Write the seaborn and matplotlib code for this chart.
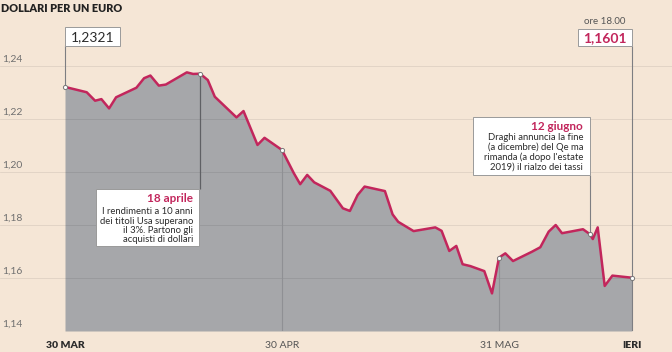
import matplotlib
matplotlib.use("Agg")
import matplotlib.pyplot as plt
import matplotlib.transforms as mtransforms
from matplotlib.patches import Rectangle
import seaborn as sns
import numpy as np

# ---------------------------------------------------------------------------
# DATI: cambio dollari per un euro (giorni dal 30 marzo)
# ---------------------------------------------------------------------------
giorni = [0, 3.1, 4.3, 5.2, 6.3, 7.3, 10.2, 11.3, 12.2, 13.4, 14.4, 17.4, 18.3,
          19.3, 20.4, 21.4, 24.5, 25.5, 27.5, 28.5, 31.0, 32.7, 33.6, 34.6,
          35.6, 37.9, 39.7, 40.7, 41.8, 42.8, 45.7, 46.8, 47.6, 49.8, 52.9,
          53.8, 54.9, 55.9, 56.8, 57.9, 59.9, 61.0, 62.0, 62.9, 64.0, 66.7,
          67.9, 69.1, 70.1, 71.0, 74.0, 75.0, 75.4, 76.1, 77.1, 78.2, 81.0]
cambio = [1.2321, 1.2301, 1.2269, 1.2275, 1.2240, 1.2282, 1.2318, 1.2354,
          1.2364, 1.2326, 1.2330, 1.2376, 1.2370, 1.2371, 1.2347, 1.2284,
          1.2206, 1.2230, 1.2102, 1.2129, 1.2083, 1.1995, 1.1954, 1.1989,
          1.1961, 1.1929, 1.1863, 1.1853, 1.1913, 1.1945, 1.1928, 1.1840,
          1.1812, 1.1777, 1.1791, 1.1778, 1.1702, 1.1721, 1.1652, 1.1645,
          1.1626, 1.1542, 1.1677, 1.1693, 1.1664, 1.1699, 1.1716, 1.1775,
          1.1800, 1.1769, 1.1784, 1.1765, 1.1747, 1.1791, 1.1570, 1.1609,
          1.1601]

tick_giorni = [0, 31, 62, 81]
tick_etichette = ["30 MAR", "30 APR", "31 MAG", "IERI"]
tick_grassetto = [True, False, False, True]

livelli_y = [1.14, 1.16, 1.18, 1.20, 1.22, 1.24]
etichette_y = ["1,14", "1,16", "1,18", "1,20", "1,22", "1,24"]

giorno_18_aprile = 19.3
giorno_12_giugno = 75.0
valore_inizio = "1,2321"
valore_ieri = "1,1601"

# ---------------------------------------------------------------------------
# STILE
# ---------------------------------------------------------------------------
BEIGE = "#f5e6d6"
GRIGIO = "#a6a7aa"
ROSSO = "#c2265c"
SCURO = "#2b2b2b"
LINEA_EVENTO = "#7d7e82"

sns.set_style("white")
plt.rcParams["font.family"] = ["Lato", "DejaVu Sans"]

fig = plt.figure(figsize=(6.72, 3.52), dpi=100, facecolor=BEIGE)
ax = fig.add_axes([0, 21 / 352, 1, 331 / 352])
ax.set_facecolor("none")
ax.set_xlim(-65 / 7, (672 - 65) / 7)
ax.set_ylim(1.14, 1.14 + 331 / 2650)
ax.axis("off")

# trasformazione in pixel (origine in alto a sinistra)
PX = mtransforms.Affine2D().scale(1 / 672, -1 / 352).translate(0, 1) + fig.transFigure
X_DATI_Y_PX = mtransforms.blended_transform_factory(ax.transData, PX)


def px_val(y):
    return 1.14 + (331 - y) / 2650


# area + linea
ax.fill_between(giorni, cambio, 1.14, color=GRIGIO, lw=0, zorder=1)
sns.lineplot(x=giorni, y=cambio, ax=ax, color=ROSSO, linewidth=1.8, zorder=5,
             sort=False, estimator=None)

# griglia orizzontale
for liv, lab in zip(livelli_y, etichette_y):
    ax.axhline(liv, color="black", alpha=0.08, lw=0.7, zorder=2)
    ax.text(-65 / 7 + 0.3, liv + 0.0007, lab, fontsize=7.5, color="#707070",
            ha="left", va="bottom", zorder=3)

# etichette asse x
for g, lab, b in zip(tick_giorni, tick_etichette, tick_grassetto):
    ax.text(g, 346, lab, transform=X_DATI_Y_PX, ha="center", va="center",
            fontsize=7.5, fontweight="heavy" if b else "normal",
            color=SCURO if b else "#555555")

# linee verticali degli eventi
v_ini = np.interp(0, giorni, cambio)
v_18 = np.interp(giorno_18_aprile, giorni, cambio)
v_30a = np.interp(tick_giorni[1], giorni, cambio)
v_31m = np.interp(tick_giorni[2], giorni, cambio)
v_12 = np.interp(giorno_12_giugno, giorni, cambio)
v_ieri = np.interp(tick_giorni[3], giorni, cambio)

ax.vlines(0, v_ini, px_val(45), color=LINEA_EVENTO, lw=0.8, zorder=3)
ax.vlines(giorno_18_aprile, px_val(189), v_18, color="#5f6064", lw=0.9, zorder=3)
ax.vlines(tick_giorni[1], 1.14, v_30a, color="#8f9094", lw=0.8, zorder=3)
ax.vlines(tick_giorni[2], 1.14, v_31m, color="#8f9094", lw=0.8, zorder=3)
ax.vlines(giorno_12_giugno, v_12, px_val(175), color=LINEA_EVENTO, lw=0.8, zorder=3)
ax.vlines(tick_giorni[3], 1.14, px_val(46), color=LINEA_EVENTO, lw=0.8, zorder=3)

ax.scatter([0, giorno_18_aprile, tick_giorni[1], tick_giorni[2], giorno_12_giugno, tick_giorni[3]],
           [v_ini, v_18, v_30a, v_31m, v_12, v_ieri], s=9, facecolor="white",
           edgecolor="#777777", linewidth=0.7, zorder=6)

# ---------------------------------------------------------------------------
# RIQUADRI
# ---------------------------------------------------------------------------
def riquadro(x0, y0, x1, y1):
    fig.add_artist(Rectangle((x0, y1), x1 - x0, -(y1 - y0), transform=PX,
                             facecolor="white", edgecolor="#9a9a9a", lw=0.7, zorder=7))


riquadro(65, 27, 120, 46)
fig.text(92.5, 37, valore_inizio, transform=PX, ha="center", va="center",
         fontsize=10, color=SCURO, zorder=8)

riquadro(578, 29, 632, 46)
fig.text(605, 38, valore_ieri, transform=PX, ha="center", va="center",
         fontsize=10, fontweight="bold", color=ROSSO, zorder=8)
fig.text(605, 22, "ore 18.00", transform=PX, ha="center", va="center",
         fontsize=7, color="#555555")

riquadro(96, 189, 199, 246)
fig.text(193, 199, "18 aprile", transform=PX, ha="right", va="center",
         fontsize=8.5, fontweight="bold", color=ROSSO, zorder=8)
for i, riga in enumerate(["I rendimenti a 10 anni", "dei titoli Usa superano",
                          "il 3%. Partono gli", "acquisti di dollari"]):
    fig.text(193, 211.5 + i * 9.5, riga, transform=PX, ha="right", va="center",
             fontsize=6.8, color=SCURO, zorder=8)

riquadro(473, 117, 590, 175)
fig.text(583, 127, "12 giugno", transform=PX, ha="right", va="center",
         fontsize=8.5, fontweight="bold", color=ROSSO, zorder=8)
for i, riga in enumerate(["Draghi annuncia la fine", "(a dicembre) del Qe ma",
                          "rimanda (a dopo l'estate", "2019) il rialzo dei tassi"]):
    fig.text(583, 138 + i * 9.7, riga, transform=PX, ha="right", va="center",
             fontsize=6.8, color=SCURO, zorder=8)

# titolo
fig.text(1, 8, "DOLLARI PER UN EURO", transform=PX, ha="left", va="center",
         fontsize=7.8, fontweight="heavy", color="#222222")

plt.savefig("out.png", dpi=100, facecolor=BEIGE)
